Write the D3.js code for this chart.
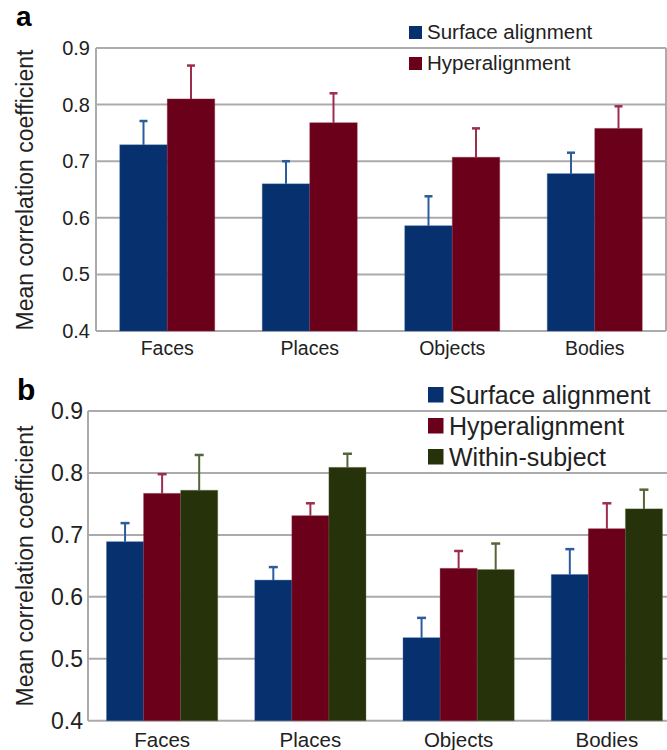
<!DOCTYPE html>
<html><head><meta charset="utf-8">
<script src="https://cdn.jsdelivr.net/npm/d3@7"></script>
<style>body{margin:0;background:#fff}svg{display:block;font-family:"Liberation Sans",Arial,sans-serif}</style>
</head><body>
<svg id="c" width="667" height="750"></svg>
<script>
const categories = ["Faces","Places","Objects","Bodies"];
const yTicks = [0.4,0.5,0.6,0.7,0.8,0.9];
const yLabel = "Mean correlation coefficient";

// Panel a
const seriesA = ["Surface alignment","Hyperalignment"];
const surfaceA = [0.729, 0.660, 0.586, 0.678];
const surfaceAErr = [0.771, 0.700, 0.638, 0.715];
const hyperA = [0.810, 0.768, 0.707, 0.758];
const hyperAErr = [0.869, 0.820, 0.758, 0.797];

// Panel b
const seriesB = ["Surface alignment","Hyperalignment","Within-subject"];
const surfaceB = [0.689, 0.627, 0.534, 0.636];
const surfaceBErr = [0.719, 0.648, 0.566, 0.677];
const hyperB = [0.767, 0.731, 0.646, 0.710];
const hyperBErr = [0.798, 0.751, 0.674, 0.751];
const withinB = [0.772, 0.809, 0.644, 0.742];
const withinBErr = [0.829, 0.831, 0.686, 0.773];

const fills = ["#06306e","#6a0019","#263209"];
const errCols = ["#2c5c9c","#9c2d4c","#55653a"];
const grid = "#ababab";
const txt = "#222";

const svg = d3.select("#c");

function panel(o){
  const g = svg.append("g");
  const x0 = d3.scaleBand().domain(categories).range([o.left,o.right]).paddingInner(o.pad).paddingOuter(o.pad/2);
  const x1 = d3.scaleBand().domain(o.series).range([0,x0.bandwidth()]);
  const y = d3.scaleLinear().domain([0.4,0.9]).range([o.bottom,o.top]);
  // gridlines
  g.selectAll(".gl").data(yTicks).join("line")
    .attr("x1",o.left).attr("x2",o.gridRight)
    .attr("y1",d=>y(d)).attr("y2",d=>y(d))
    .attr("stroke",grid).attr("stroke-width",2);
  g.append("line").attr("x1",o.left).attr("x2",o.left).attr("y1",y(0.9)).attr("y2",y(0.4)).attr("stroke",grid).attr("stroke-width",2);
  if(o.box) g.append("line").attr("x1",o.gridRight).attr("x2",o.gridRight).attr("y1",y(0.9)).attr("y2",y(0.4)).attr("stroke",grid).attr("stroke-width",2);
  // tick labels
  const ax = d3.axisLeft(y).tickValues(yTicks).tickFormat(d3.format(".1f")).tickSize(0).tickPadding(o.tickPad);
  const axg = g.append("g").attr("transform",`translate(${o.left},0)`).call(ax);
  axg.select(".domain").remove();
  axg.selectAll("text").attr("font-size",o.tickFs).attr("fill",txt).attr("font-family","Liberation Sans, Arial, sans-serif");
  // x labels
  const xa = d3.axisBottom(x0).tickSize(0).tickPadding(0);
  const xg = g.append("g").attr("transform",`translate(0,${o.bottom})`).call(xa);
  xg.select(".domain").remove();
  xg.selectAll("text").attr("font-size",o.xFs).attr("fill",txt).attr("dy",null).attr("y",o.xDy).attr("font-family","Liberation Sans, Arial, sans-serif");
  // bars
  o.series.forEach((s,si)=>{
    const vals = o.values[si], errs = o.errs[si];
    categories.forEach((c,ci)=>{
      const bx = x0(c)+x1(s), bw = x1.bandwidth(), cx = bx+bw/2;
      g.append("line").attr("x1",cx).attr("x2",cx).attr("y1",y(vals[ci])).attr("y2",y(errs[ci])).attr("stroke",errCols[si]).attr("stroke-width",2);
      g.append("line").attr("x1",cx-o.cap).attr("x2",cx+o.cap).attr("y1",y(errs[ci])).attr("y2",y(errs[ci])).attr("stroke",errCols[si]).attr("stroke-width",2.5);
      g.append("rect").attr("x",bx).attr("y",y(vals[ci])).attr("width",bw).attr("height",y(0.4)-y(vals[ci]))
        .attr("fill",fills[si]).attr("stroke",errCols[si]).attr("stroke-opacity",0.35).attr("stroke-width",1);
    });
  });
  // legend
  o.series.forEach((s,si)=>{
    const ly = o.legY + si*o.legStep;
    g.append("rect").attr("x",o.legX).attr("y",ly).attr("width",o.legSq).attr("height",o.legSq).attr("fill",fills[si]);
    g.append("text").attr("x",o.legTx).attr("y",ly+o.legSq-o.legBase).attr("font-size",o.legFs).attr("fill",txt).text(s);
  });
  // y label
  g.append("text").attr("transform",`translate(${o.ylX},${o.ylY}) rotate(-90)`).attr("text-anchor","middle")
    .attr("font-size",o.ylFs).attr("fill",txt).text(yLabel);
  // panel letter
  g.append("text").attr("x",o.letX).attr("y",o.letY).attr("font-size",o.letFs).attr("font-weight","bold").attr("fill","#000").text(o.letter);
}

panel({left:96,right:666,gridRight:666,box:true,top:48,bottom:331,pad:1/3,series:seriesA,
  values:[surfaceA,hyperA],errs:[surfaceAErr,hyperAErr],cap:4,
  tickFs:20,tickPad:6,xFs:19.5,xDy:24,
  legX:409,legY:26,legStep:31,legSq:13,legTx:427,legFs:20.5,legBase:0,
  ylX:33,ylY:190,ylFs:23,letX:16,letY:26,letFs:28,letter:"a"});

panel({left:88,right:681,gridRight:667,box:false,top:411,bottom:720.7,pad:0.25,series:seriesB,
  values:[surfaceB,hyperB,withinB],errs:[surfaceBErr,hyperBErr,withinBErr],cap:4.5,
  tickFs:23,tickPad:5,xFs:20.5,xDy:26,
  legX:428,legY:387,legStep:31,legSq:15.5,legTx:449,legFs:25,legBase:-1,
  ylX:33,ylY:566,ylFs:23,letX:17,letY:400,letFs:30,letter:"b"});
</script>
</body></html>
